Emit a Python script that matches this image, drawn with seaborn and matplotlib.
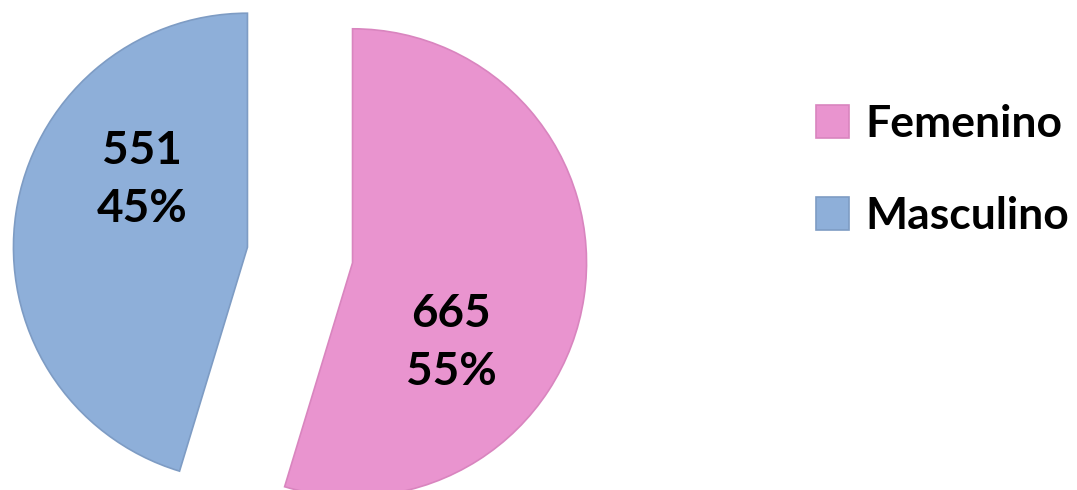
import matplotlib
matplotlib.use("Agg")
import matplotlib.pyplot as plt
import seaborn as sns

sns.set_theme(style="white")
plt.rcParams["font.family"] = ["Lato", "DejaVu Sans"]

# Data
categories = ["Femenino", "Masculino"]
counts = [665, 551]
percent_labels = ["55%", "45%"]
colors = ["#E994CF", "#8EAFD9"]
edge_colors = ["#D985BF", "#7E9CC4"]

# Layout (pixels in a 1077x490 figure)
W, H = 1077, 490
cx, cy = 300, 255          # pie centre, from top
r = 234                    # radius in px
label_px = [(451, 343), (142, 180)]


def main():
    fig = plt.figure(figsize=(W / 100, H / 100), dpi=100)
    ax = fig.add_axes([0, 0, 1, 1])

    wedges, texts, autotexts = ax.pie(
        counts,
        colors=colors,
        startangle=90,
        counterclock=False,
        explode=(0.227, 0.227),
        autopct=lambda p: "",
        wedgeprops={"linewidth": 1.2},
    )
    for w, ec in zip(wedges, edge_colors):
        w.set_edgecolor(ec)

    ax.set_aspect("auto")
    ax.set_xlim(-cx / r, (W - cx) / r)
    ax.set_ylim(-(H - cy) / r, cy / r)
    ax.axis("off")

    # value + percentage labels
    for t, n, p, (px, py) in zip(autotexts, counts, percent_labels, label_px):
        t.set_text(f"{n}\n{p}")
        t.set_position(((px - cx) / r, (cy - py) / r))
        t.set_fontsize(33)
        t.set_fontweight("bold")
        t.set_color("black")
        t.set_ha("center")
        t.set_va("center")
        t.set_linespacing(1.45)

    fig.legend(
        wedges,
        categories,
        loc="upper left",
        bbox_to_anchor=(816 / W, 1 - 104 / H),
        frameon=False,
        prop={"size": 32, "weight": "bold"},
        labelcolor="black",
        handlelength=0.75,
        handleheight=0.75,
        handletextpad=0.36,
        labelspacing=1.17,
        borderpad=0,
        borderaxespad=0,
    )

    fig.savefig("out.png", dpi=100)


if __name__ == "__main__":
    main()
